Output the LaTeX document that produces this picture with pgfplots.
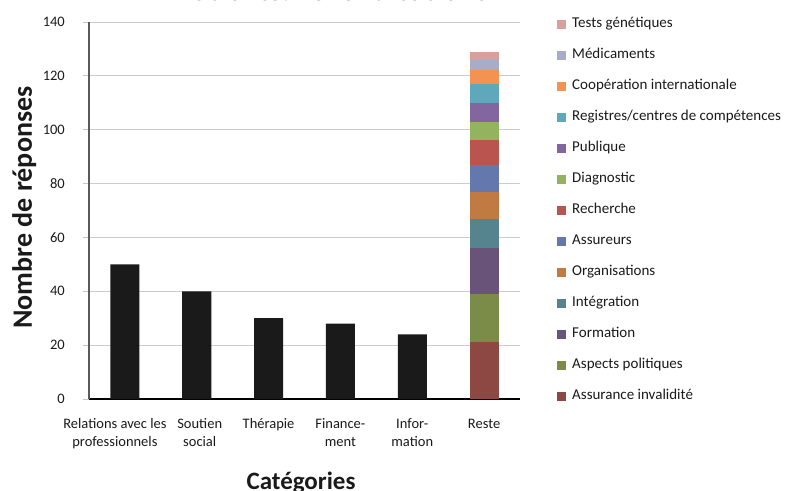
\documentclass[border=0pt]{standalone}
\usepackage{pgfplots}
\pgfplotsset{compat=1.18}
\usepackage{pgfplotstable}
\usepackage{fontspec}
\setmainfont{Carlito}

\definecolor{blk}{HTML}{1A1A1A}
\definecolor{cai}{HTML}{8E4843}
\definecolor{cap}{HTML}{7A8C47}
\definecolor{cfo}{HTML}{6A5378}
\definecolor{cig}{HTML}{55848E}
\definecolor{cor}{HTML}{C27A43}
\definecolor{cas}{HTML}{6478AD}
\definecolor{cre}{HTML}{B9544F}
\definecolor{cdi}{HTML}{94B35E}
\definecolor{cpu}{HTML}{8365A0}
\definecolor{crg}{HTML}{5FA8BB}
\definecolor{cco}{HTML}{F49252}
\definecolor{cme}{HTML}{A7ACC9}
\definecolor{ctg}{HTML}{D7A09D}

% columns: black bars, then the parts of "Reste" from the bottom up
\pgfplotstableread{
x blk ai ap fo ig or as re di pu rg co me tg
0 50  0  0  0  0  0  0  0 0 0 0 0 0 0
1 40  0  0  0  0  0  0  0 0 0 0 0 0 0
2 30  0  0  0  0  0  0  0 0 0 0 0 0 0
3 28  0  0  0  0  0  0  0 0 0 0 0 0 0
4 24  0  0  0  0  0  0  0 0 0 0 0 0 0
5 0  21 18 17 11 10 10  9 7 7 7 5 4 3
}\reste

\begin{document}
\begin{tikzpicture}
\begin{axis}[
  at={(0,0)}, anchor=south west,
  width=431bp, height=377bp, scale only axis,
  ybar stacked, bar width=29bp,
  xmin=-0.5, xmax=5.5, ymin=0, ymax=140,
  ytick={0,20,...,140},
  xtick={0,...,5},
  xticklabels={{\strut Relations avec les\kern20bp\\professionnels\kern20bp},{\kern6bp\strut Soutien\\\kern6bp social},{\strut Thérapie},{\strut Finance-\\ment},{\strut Infor-\\mation},{\strut Reste}},
  axis lines*=left,
  x axis line style={black, line width=1.6bp},
  y axis line style={black!65, line width=1.2bp},
  tick align=outside, major tick length=6bp,
  xtick style={draw=none},
  ytick style={draw=gray!45, line width=0.8bp},
  ymajorgrids, major grid style={draw=gray!40, line width=0.8bp},
  /pgf/number format/assume math mode=true,
  tick label style={font=\fontsize{14.5bp}{18bp}\selectfont, text=blk},
  xticklabel style={align=center, inner sep=0pt, anchor=north, yshift=-10.5bp},
  yticklabel style={inner sep=0pt, xshift=-18bp},
  title={Patients: revendications},
  title style={at={(axis description cs:0.566,1.0464)}, anchor=base, yshift=-2pt, font=\bfseries\fontsize{31bp}{32bp}\selectfont, text=blk},
  xlabel={Catégories},
  xlabel style={at={(axis description cs:0.492,0)}, anchor=base, yshift=-90bp, font=\bfseries\fontsize{25bp}{26bp}\selectfont, text=blk},
  ylabel={Nombre de réponses},
  ylabel style={at={(axis description cs:-0.1323,0.508)}, anchor=base, font=\bfseries\fontsize{28bp}{29bp}\selectfont, text=blk},
  reverse legend, legend cell align=left,
  legend image code/.code={\fill[#1] (0bp,-1bp) rectangle (9bp,8bp);},
  legend style={at={(1,1)}, anchor=north west, xshift=37bp, yshift=5bp,
    draw=none, fill=none, inner sep=0pt, row sep=17bp, column sep=6bp,
    font=\fontsize{15bp}{18bp}\selectfont, text=blk,
    nodes={inner sep=0pt, text height=10.5bp, text depth=3.5bp, anchor=base west}},
]
\addplot[fill=blk, draw=none, forget plot] table[x=x, y=blk] {\reste};
\addplot[fill=cai, draw=none] table[x=x, y=ai] {\reste};
\addlegendentry{Assurance invalidité}
\addplot[fill=cap, draw=none] table[x=x, y=ap] {\reste};
\addlegendentry{Aspects politiques}
\addplot[fill=cfo, draw=none] table[x=x, y=fo] {\reste};
\addlegendentry{Formation}
\addplot[fill=cig, draw=none] table[x=x, y=ig] {\reste};
\addlegendentry{Intégration}
\addplot[fill=cor, draw=none] table[x=x, y=or] {\reste};
\addlegendentry{Organisations}
\addplot[fill=cas, draw=none] table[x=x, y=as] {\reste};
\addlegendentry{Assureurs}
\addplot[fill=cre, draw=none] table[x=x, y=re] {\reste};
\addlegendentry{Recherche}
\addplot[fill=cdi, draw=none] table[x=x, y=di] {\reste};
\addlegendentry{Diagnostic}
\addplot[fill=cpu, draw=none] table[x=x, y=pu] {\reste};
\addlegendentry{Publique}
\addplot[fill=crg, draw=none] table[x=x, y=rg] {\reste};
\addlegendentry{Registres/centres de compétences}
\addplot[fill=cco, draw=none] table[x=x, y=co] {\reste};
\addlegendentry{Coopération internationale}
\addplot[fill=cme, draw=none] table[x=x, y=me] {\reste};
\addlegendentry{Médicaments}
\addplot[fill=ctg, draw=none] table[x=x, y=tg] {\reste};
\addlegendentry{Tests génétiques}
\end{axis}
\pgfresetboundingbox
\useasboundingbox (-89bp,-92bp) rectangle (697bp,399bp);
\end{tikzpicture}
\end{document}
